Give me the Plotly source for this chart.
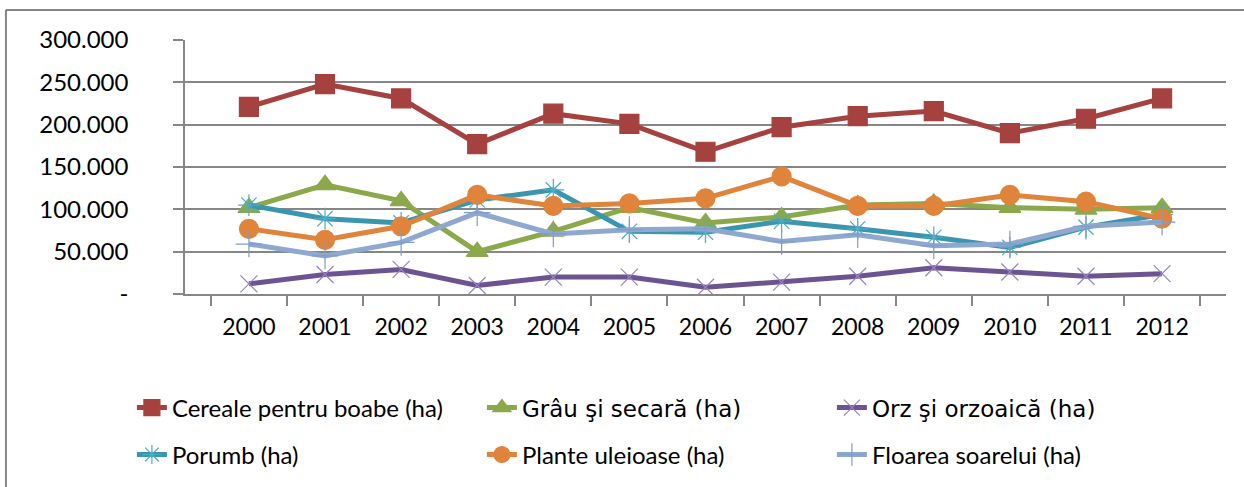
import plotly.graph_objects as go

years = ["2000", "2001", "2002", "2003", "2004", "2005", "2006",
         "2007", "2008", "2009", "2010", "2011", "2012"]

cereale = [221000, 248000, 231000, 177000, 213000, 201000, 168000,
           197000, 210000, 216000, 190000, 207000, 231000]
grau = [102000, 129000, 110000, 50000, 74000, 102000, 84000,
        91000, 105000, 107000, 102000, 100000, 102000]
orz = [12000, 23000, 29000, 10000, 20000, 20000, 8000,
       14000, 21000, 31000, 26000, 21000, 24000]
porumb = [105000, 89000, 84000, 111000, 123000, 74000, 73000,
          86000, 77000, 67000, 55000, 79000, 94000]
plante = [77000, 64000, 80000, 117000, 104000, 107000, 113000,
          139000, 104000, 104000, 117000, 109000, 89000]
floarea = [59000, 45000, 61000, 96000, 71000, 76000, 77000,
           62000, 70000, 57000, 59000, 80000, 85000]

y_ticks = [0, 50000, 100000, 150000, 200000, 250000, 300000]
y_labels = ["-", "50.000", "100.000", "150.000", "200.000", "250.000", "300.000"]

alt = '<span style="font-family:DejaVu Sans;font-size:23px">%s</span>'

series = [
    ("Cereale pentru boabe (ha)", cereale, "#A5423F", "square", 19, "#A5423F", "legend"),
    (alt % "Grâu şi secară (ha)", grau, "#8BA84B", "triangle-up", 19, "#8BA84B", "legend"),
    (alt % "Orz şi orzoaică (ha)", orz, "#6C5391", "x-thin-open", 17, "#9983BD", "legend"),
    ("Porumb (ha)", porumb, "#3996AE", "asterisk-open", 18, "#4BACC6", "legend2"),
    ("Plante uleioase (ha)", plante, "#E0843C", "circle", 19, "#E0843C", "legend2"),
    ("Floarea soarelui (ha)", floarea, "#8EA8D0", "cross-thin-open", 19, "#7E9CCC", "legend2"),
]

fig = go.Figure()
for name, vals, color, sym, size, mcolor, leg in series:
    fig.add_trace(go.Scatter(
        x=years, y=vals, name=name, mode="lines+markers", legend=leg,
        line=dict(color=color, width=5),
        marker=dict(symbol=sym, size=size, color=mcolor,
                    line=dict(color=mcolor, width=1.2)),
    ))

fig.update_layout(
    width=1244, height=487,
    margin=dict(l=185, r=18, t=40, b=192),
    plot_bgcolor="white", paper_bgcolor="white",
    font=dict(family="Lato", size=20, color="black"),
    showlegend=True,
    legend=dict(orientation="h", x=-0.051, xanchor="left", y=-0.443, yanchor="middle",
                entrywidth=305, font=dict(size=24), itemclick=False),
    legend2=dict(orientation="h", x=-0.051, xanchor="left", y=-0.627, yanchor="middle",
                 entrywidth=305, font=dict(size=24), itemclick=False),
)

fig.update_xaxes(
    type="category", showgrid=False, showline=True, linecolor="#868686", linewidth=1.5,
    ticks="outside", tickson="boundaries", ticklen=10, tickcolor="#868686", tickwidth=1.5,
    tickfont=dict(size=23), ticklabelstandoff=12,
)
fig.update_yaxes(
    range=[0, 300000], tickvals=y_ticks, ticktext=y_labels,
    showgrid=True, gridcolor="#868686", gridwidth=1.5,
    showline=True, linecolor="#868686", linewidth=1.5,
    ticks="outside", ticklen=10, tickcolor="#868686", tickwidth=1.5,
    tickfont=dict(size=24), ticklabelstandoff=40, zeroline=False,
)

# chart frame (only top and left edges fall inside the picture)
fig.add_shape(type="line", xref="paper", yref="paper", x0=-0.172, x1=1.05, y0=1.118, y1=1.118,
              line=dict(color="#868686", width=2))
fig.add_shape(type="line", xref="paper", yref="paper", x0=-0.172, x1=-0.172, y0=1.118, y1=-0.8,
              line=dict(color="#868686", width=2))

fig.write_html("out.html", config={"displayModeBar": False},
               post_script="document.body.style.margin='0';")
